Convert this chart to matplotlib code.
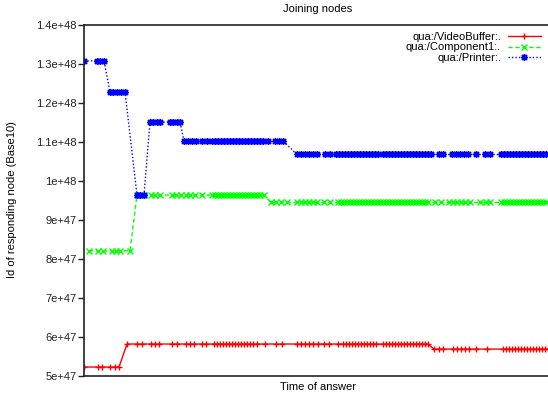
import matplotlib
matplotlib.use("Agg")
import matplotlib.pyplot as plt
from matplotlib.ticker import FixedLocator, FixedFormatter

# time of answer (arbitrary units), grouped by the level each node id sits on
red_levels = [5.23e47, 5.82e47, 5.69e47]
red_times = [
    [0, 14, 18, 26, 31, 35],
    [43, 53, 58, 67, 71, 75, 88, 93, 102, 106, 110, 118, 122,
     130, 133, 136, 139, 142, 145, 148, 151, 154, 157, 160, 163, 166, 169, 173,
     181, 192, 198, 213, 217, 221, 225, 229, 234, 240, 245, 254,
     259, 262, 265, 268, 271, 274, 277, 280, 283, 286, 289, 292,
     299, 302, 305, 308, 311, 314, 317, 320, 323, 326, 329, 332, 335, 338, 341, 344],
    [350, 355, 359, 369, 373, 377, 381, 385, 392, 403,
     419, 422, 425, 428, 431, 434, 437, 440, 443, 446, 449, 452, 455, 458, 461, 464],
]

green_levels = [8.21e47, 9.64e47, 9.45e47]
green_times = [
    [5, 14, 19, 28, 32, 36, 46],
    [53, 57, 60, 67, 71, 76, 88, 92, 97, 102, 106, 111, 118,
     128, 131, 134, 137, 140, 143, 146, 149, 152, 155, 158, 161, 164, 167, 170, 173, 176, 180],
    [187, 192, 197, 203, 213, 217, 221, 225, 229, 233, 240, 246,
     254, 257, 260, 263, 266, 269, 272, 275, 278, 281, 284, 287, 290, 293,
     296, 299, 302, 305, 308, 311, 314, 317, 320, 323, 326, 329, 332, 335, 338, 341, 344,
     351, 357, 365, 369, 373, 377, 381, 386, 396, 402, 406,
     417, 420, 423, 426, 429, 432, 435, 438, 441, 444, 447, 450, 453, 456, 459, 462],
]

blue_levels = [1.308e48, 1.229e48, 9.64e47, 1.151e48, 1.103e48, 1.068e48]
blue_times = [
    [0, 13, 16, 20],
    [26, 29, 33, 37, 41],
    [53, 56, 60],
    [66, 69, 73, 76, 86, 89, 93, 96],
    [100, 104, 108, 112, 118, 123, 128, 131, 134, 137, 140, 143, 146, 149, 152,
     155, 158, 161, 164, 167, 170, 173, 176, 179, 184, 191, 195, 199],
    [213, 217, 221, 225, 229, 233, 241, 246, 252, 255, 258, 261, 264, 267, 270,
     273, 276, 279, 282, 285, 288, 291, 294, 299, 302, 305, 308, 311, 314, 317,
     320, 323, 326, 329, 332, 335, 338, 341, 344, 347, 355, 359, 368, 372, 376,
     380, 384, 392, 401, 406, 417, 420, 423, 426, 429, 432, 435, 438, 441, 444,
     447, 450, 453, 456, 459, 462],
]

y_ticks = [5e47, 6e47, 7e47, 8e47, 9e47, 1e48, 1.1e48, 1.2e48, 1.3e48, 1.4e48]
y_labels = ["5e+47", "6e+47", "7e+47", "8e+47", "9e+47", "1e+48",
            "1.1e+48", "1.2e+48", "1.3e+48", "1.4e+48"]

series = [
    ("qua:/VideoBuffer:.", red_times, red_levels, "#ff0000", "-", "+"),
    ("qua:/Component1:.", green_times, green_levels, "#00ff00", (0, (3, 2)), "x"),
    ("qua:/Printer:.", blue_times, blue_levels, "#0000ff", (0, (1, 1.5)), (8, 2, 0)),
]


def flatten(times, levels):
    t, v = [], []
    for grp, lv in zip(times, levels):
        for x in grp:
            t.append(x)
            v.append(lv)
    return t, v


plt.rcParams["font.family"] = ["Liberation Sans", "DejaVu Sans"]

fig = plt.figure(figsize=(5.48, 3.97), dpi=100)
W, H = 548, 397
ax = fig.add_axes([84 / W, (H - 376) / H, (552 - 84) / W, (376 - 25) / H])

for name, times, levels, col, ls, mk in series:
    t, v = flatten(times, levels)
    ax.plot(t, v, color=col, linestyle=ls, linewidth=1.0, marker=mk,
            markersize=5, markeredgewidth=1.0, label=name)

ax.set_xlim(0, 468)
ax.set_ylim(5e47, 1.4e48)
ax.set_xticks([])
ax.yaxis.set_major_locator(FixedLocator(y_ticks))
ax.yaxis.set_major_formatter(FixedFormatter(y_labels))
ax.tick_params(axis="y", direction="out", length=4.5, width=1.0, pad=1,
               labelsize=8, colors="#222222")
for s in ["left", "top", "bottom"]:
    ax.spines[s].set_color("#222222")
    ax.spines[s].set_linewidth(1.2)
ax.spines["right"].set_visible(False)

fig.text(318 / W, (H - 9) / H, "Joining nodes", ha="center", va="center", fontsize=8)
fig.text(318 / W, (H - 387) / H, "Time of answer", ha="center", va="center", fontsize=8)
fig.text(12 / W, (H - 200) / H, "Id of responding node (Base10)", ha="center",
         va="center", rotation=90, fontsize=8)

# key in the top right corner, text right-aligned before the sample
leg = ax.legend(loc="upper right", bbox_to_anchor=((541 - 84) / 468, 1 - 6.5 / 351),
                markerfirst=False, frameon=False, fontsize=8, handlelength=3.0,
                handletextpad=0.6, labelspacing=0.08, borderaxespad=0, borderpad=0)
for col in leg._legend_handle_box.get_children():
    col.align = "right"

fig.savefig("out.png", dpi=100)
